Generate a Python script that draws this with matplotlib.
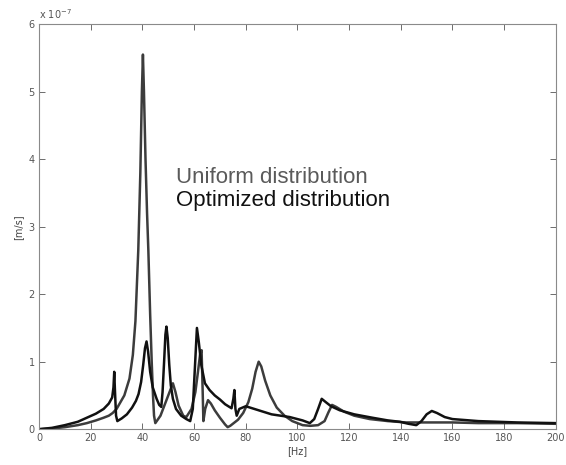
import matplotlib
matplotlib.use('Agg')
import matplotlib.pyplot as plt

# frequency [Hz] / velocity [x1e-7 m/s]
uni_f = [0, 5, 10, 15, 18.5, 22, 25, 27, 28.5, 30, 33, 35, 36.3, 37.3, 38.4, 39.2,
         39.8, 40.2, 40.6, 41.2, 41.8, 42.3, 43, 43.6, 44.1, 44.5, 45, 47, 49,
         50.5, 51.8, 52.8, 54, 55.8, 57, 59, 60.5, 61.5, 62.3, 62.9, 63.3, 63.6,
         64.3, 65.4, 66.5, 68, 70, 72, 73, 74, 75, 77, 79, 81, 82.5, 83.8, 85,
         86, 87.5, 89.5, 92, 95, 98, 102, 105, 108, 110.5, 112, 113.4, 115, 118,
         122, 128, 135, 142, 150, 160, 170, 185, 200]
uni_v = [0, 0.01, 0.03, 0.06, 0.09, 0.13, 0.17, 0.2, 0.24, 0.3, 0.5, 0.75, 1.1,
         1.6, 2.65, 3.8, 5.0, 5.55, 5.0, 4.0, 3.2, 2.65, 1.7, 1.0, 0.5, 0.2, 0.09,
         0.2, 0.4, 0.55, 0.68, 0.55, 0.35, 0.2, 0.18, 0.3, 0.55, 0.85, 1.1, 1.17,
         0.6, 0.12, 0.3, 0.43, 0.38, 0.28, 0.17, 0.07, 0.03, 0.05, 0.08, 0.14,
         0.24, 0.4, 0.6, 0.85, 1.0, 0.93, 0.72, 0.5, 0.32, 0.2, 0.12, 0.06, 0.05,
         0.06, 0.12, 0.25, 0.36, 0.33, 0.26, 0.2, 0.15, 0.12, 0.1, 0.1, 0.1, 0.09,
         0.09, 0.08]

opt_f = [0, 5, 10, 15, 18.5, 22, 25, 27, 28.3, 28.8, 29.1, 29.4, 29.8, 30.3, 32,
         34, 36, 37.5, 38.5, 39.5, 40.3, 41, 41.6, 42.2, 43, 44, 45.5, 46.5, 47.3,
         47.8, 48.4, 48.9, 49.3, 49.8, 50.4, 51, 51.8, 53, 55, 57, 58.5, 59.5,
         60.3, 61.1, 61.8, 62.8, 64.2, 66, 68, 70, 72, 74.5, 75.2, 75.6, 76,
         76.5, 77.5, 80, 85, 90, 97, 102, 104.8, 106.5, 108, 109.4, 111, 113,
         116.4, 122, 129, 135, 139.6, 143, 146, 148, 150, 152, 154, 157, 160, 170,
         185, 200]
opt_v = [0, 0.02, 0.06, 0.11, 0.17, 0.23, 0.3, 0.38, 0.47, 0.62, 0.85, 0.55, 0.2,
         0.12, 0.16, 0.22, 0.32, 0.42, 0.52, 0.7, 0.95, 1.2, 1.3, 1.15, 0.85, 0.62,
         0.45, 0.36, 0.33, 0.55, 1.0, 1.4, 1.52, 1.35, 0.95, 0.65, 0.45, 0.3, 0.2,
         0.15, 0.12, 0.3, 0.9, 1.5, 1.3, 0.95, 0.68, 0.58, 0.5, 0.44, 0.37, 0.31,
         0.45, 0.58, 0.3, 0.2, 0.3, 0.34, 0.28, 0.22, 0.18, 0.13, 0.09, 0.15, 0.3,
         0.45, 0.4, 0.34, 0.28, 0.22, 0.17, 0.13, 0.11, 0.08, 0.06, 0.12, 0.22,
         0.27, 0.24, 0.18, 0.15, 0.12, 0.1, 0.09]

x_ticks = list(range(0, 201, 20))
y_ticks = list(range(0, 7))

fig = plt.figure(figsize=(5.66, 4.65), dpi=100)
ax = fig.add_axes([0.069, 0.077, 0.913, 0.871])

ax.plot(uni_f, uni_v, color='#3c3c3c', lw=1.8)
ax.plot(opt_f, opt_v, color='#111111', lw=1.8)

ax.set_xlim(0, 200)
ax.set_ylim(0, 6)
ax.set_xticks(x_ticks)
ax.set_yticks(y_ticks)
ax.tick_params(direction='in', top=True, right=True, length=4, width=0.6,
               labelsize=7, colors='#555555', pad=3)
for s in ax.spines.values():
    s.set_color('#8a8a8a')
    s.set_linewidth(0.8)

ax.set_xlabel('[Hz]', fontsize=7, color='#444444', labelpad=2)
ax.set_ylabel('[m/s]', fontsize=7, color='#444444', labelpad=4)
ax.text(0, 1.008, r'x 10$^{-7}$', transform=ax.transAxes, fontsize=7,
        color='#555555', va='bottom', ha='left')

ax.text(53, 3.73, 'Uniform distribution', fontsize=16, color='#5a5a5a',
        family='Liberation Sans', va='center')
ax.text(53, 3.39, 'Optimized distribution', fontsize=16, color='#111111',
        family='Liberation Sans', va='center')

fig.savefig('out.png', dpi=100)
